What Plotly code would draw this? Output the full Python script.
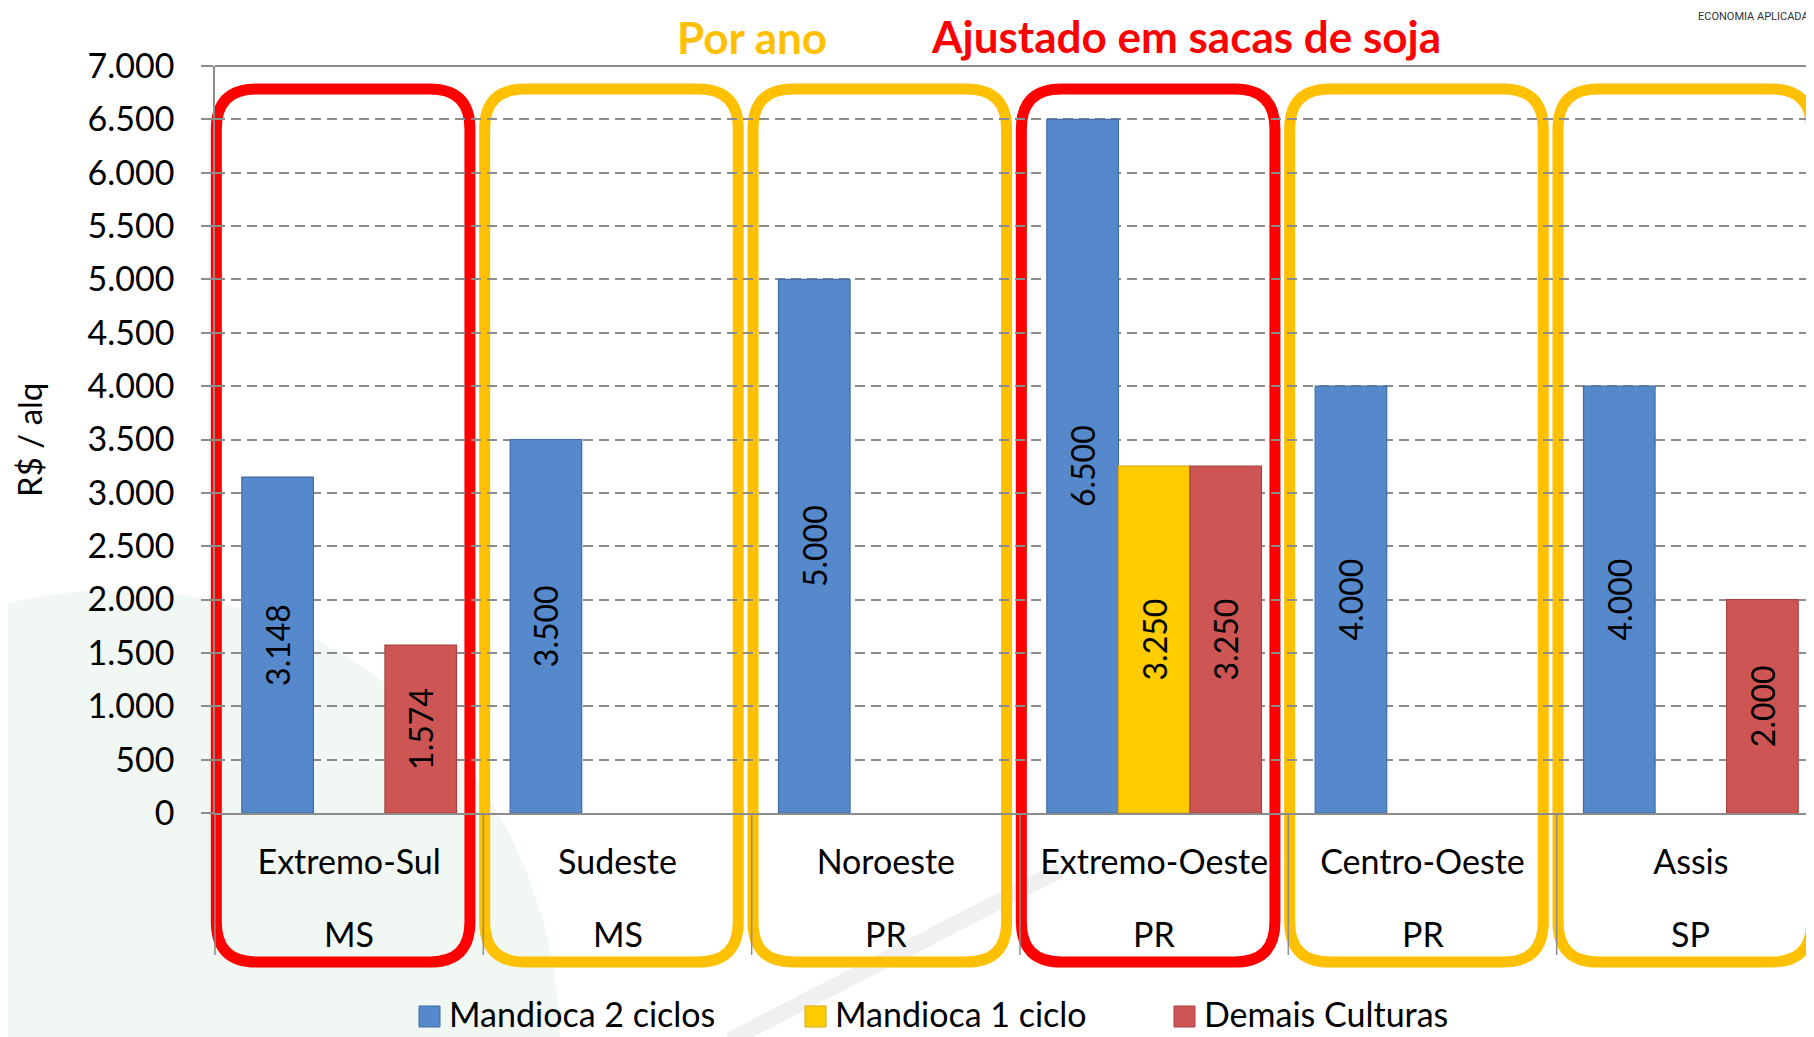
import plotly.graph_objects as go

# ---------------- data ----------------
regions = ["Extremo-Sul", "Sudeste", "Noroeste", "Extremo-Oeste", "Centro-Oeste", "Assis"]
states = ["MS", "MS", "PR", "PR", "PR", "SP"]
series_names = ["Mandioca 2 ciclos", "Mandioca 1 ciclo", "Demais Culturas"]
mandioca_2_ciclos = [3148, 3500, 5000, 6500, 4000, 4000]
mandioca_1_ciclo = [None, None, None, 3250, None, None]
demais_culturas = [1574, None, None, 3250, None, 2000]
y_ticks = [0, 500, 1000, 1500, 2000, 2500, 3000, 3500, 4000, 4500, 5000, 5500, 6000, 6500, 7000]
highlighted = [True, False, False, True, False, False]  # red frames

title_left = "Por ano"
title_right = "Ajustado em sacas de soja"
y_title = "R$ / alq"
corner_text = "ECONOMIA APLICADA"

# ---------------- style ----------------
OFF = 8                      # page body margin of the html page
W, H = 1814 - OFF, 1037 - OFF
L, R, T, B = 215 - OFF, 0, 66 - OFF, 1037 - 813
PW, PH = W - L - R, H - T - B
XMIN, XMAX = -0.5, 5.459
FONT = "Lato"
GRID = "#8c8c8c"
colors = ["#5589CB", "#FFCC00", "#CD5655"]
edge_colors = ["#3E6DA6", "#D9A900", "#A84341"]
RED, ORANGE = "#FF0000", "#FFC000"


def xp(px):   # px: reference-picture x
    return (px - OFF - L) / PW


def yp(py):   # py: reference-picture y
    return (H - B - (py - OFF)) / PH


def xd(v):
    return (v - XMIN) / (XMAX - XMIN)


fig = go.Figure()

series = [mandioca_2_ciclos, mandioca_1_ciclo, demais_culturas]
for name, vals, col, ecol in zip(series_names, series, colors, edge_colors):
    fig.add_trace(go.Bar(
        x=regions, y=vals, name=name,
        marker=dict(color=col, line=dict(color=ecol, width=1.2)),
        texttemplate="%{y:,d}", textposition="inside", textangle=-90,
        insidetextanchor="middle", constraintext="none",
        textfont=dict(family=FONT, size=32, color="black"),
        showlegend=False, hoverinfo="skip",
    ))

shapes = []

# faint background watermark
shapes.append(dict(type="circle", xref="paper", yref="paper", layer="below",
                   x0=xp(-330), x1=xp(560), y0=yp(1500), y1=yp(590),
                   fillcolor="rgba(205,226,210,0.28)", line=dict(width=0)))
shapes.append(dict(type="line", xref="paper", yref="paper", layer="below",
                   x0=xp(730), y0=yp(1040), x1=xp(1060), y1=yp(870),
                   line=dict(color="rgba(205,205,205,0.3)", width=16)))

# rounded frames around each region
rx, ry = 40 / PW, 40 / PH
y_top, y_bot = yp(89), yp(962)
for i, hl in enumerate(highlighted):
    x0, x1 = xd(i - 0.495), xd(i + 0.45)
    y0, y1 = y_bot, y_top
    path = (f"M{x0+rx},{y1} L{x1-rx},{y1} Q{x1},{y1} {x1},{y1-ry} "
            f"L{x1},{y0+ry} Q{x1},{y0} {x1-rx},{y0} L{x0+rx},{y0} "
            f"Q{x0},{y0} {x0},{y0+ry} L{x0},{y1-ry} Q{x0},{y1} {x0+rx},{y1} Z")
    shapes.append(dict(type="path", path=path, xref="paper", yref="paper",
                       layer="below", line=dict(color=RED if hl else ORANGE, width=11)))

# category separators below the axis
for i in range(len(regions)):
    xb = xd(i - 0.5)
    shapes.append(dict(type="line", xref="paper", yref="paper", layer="above",
                       x0=xb, x1=xb, y0=0, y1=yp(955),
                       line=dict(color=GRID, width=1.5)))

# solid top border line
shapes.append(dict(type="line", xref="paper", yref="paper", layer="above",
                   x0=0, x1=1, y0=1, y1=1, line=dict(color=GRID, width=2)))

# manual legend
legend_x = [419, 805, 1174]
for name, col, ecol, lx in zip(series_names, colors, edge_colors, legend_x):
    shapes.append(dict(type="rect", xref="paper", yref="paper",
                       x0=xp(lx), x1=xp(lx + 21), y0=yp(1027), y1=yp(1006),
                       fillcolor=col, line=dict(color=ecol, width=1)))

annotations = []
for name, lx in zip(series_names, legend_x):
    annotations.append(dict(text=name, xref="paper", yref="paper",
                            x=xp(lx + 28), y=yp(1013), xanchor="left", yanchor="middle",
                            showarrow=False, font=dict(family=FONT, size=34, color="black")))

# state labels (second category level)
for i, st in enumerate(states):
    annotations.append(dict(text=st, xref="paper", yref="paper", x=xd(i), y=yp(933),
                            xanchor="center", yanchor="middle", showarrow=False,
                            font=dict(family=FONT, size=34, color="black")))

annotations += [
    dict(text=f"<b>{title_left}</b>", xref="paper", yref="paper", x=xp(752), y=yp(OFF + 1),
         xanchor="center", yanchor="top", showarrow=False,
         font=dict(family=FONT, size=44, color=ORANGE)),
    dict(text=f"<b>{title_right}</b>", xref="paper", yref="paper", x=xp(1186), y=yp(OFF),
         xanchor="center", yanchor="top", showarrow=False,
         font=dict(family=FONT, size=44, color=RED)),
    dict(text=y_title, xref="paper", yref="paper", x=xp(29), y=yp(440),
         xanchor="center", yanchor="middle", textangle=-90, showarrow=False,
         font=dict(family=FONT, size=33, color="black")),
    dict(text=corner_text, xref="paper", yref="paper", x=xp(1811), y=yp(OFF),
         xanchor="right", yanchor="top", showarrow=False,
         font=dict(family="Roboto", size=11, color="#333333")),
]

fig.update_layout(
    width=W, height=H, autosize=False,
    margin=dict(l=L, r=R, t=T, b=B, pad=0),
    paper_bgcolor="white", plot_bgcolor="rgba(0,0,0,0)",
    barmode="group", bargap=0.2, bargroupgap=0,
    separators=",.", showlegend=False,
    shapes=shapes, annotations=annotations,
    xaxis=dict(type="category", range=[XMIN, XMAX], showline=True, linecolor=GRID,
               linewidth=2, ticks="", showgrid=False, ticklabelstandoff=18,
               tickfont=dict(family=FONT, size=34, color="black"), fixedrange=True),
    yaxis=dict(range=[0, 7000], tickvals=y_ticks, tickformat=",d", ticks="outside",
               ticklen=12, tickwidth=1.5, tickcolor=GRID, showline=True, linecolor=GRID,
               linewidth=1.5, showgrid=True, gridcolor=GRID, gridwidth=2,
               griddash="10px,6px", zeroline=False, ticklabelstandoff=20,
               tickfont=dict(family=FONT, size=34, color="black"), fixedrange=True),
)

fig.write_html("out.html")
